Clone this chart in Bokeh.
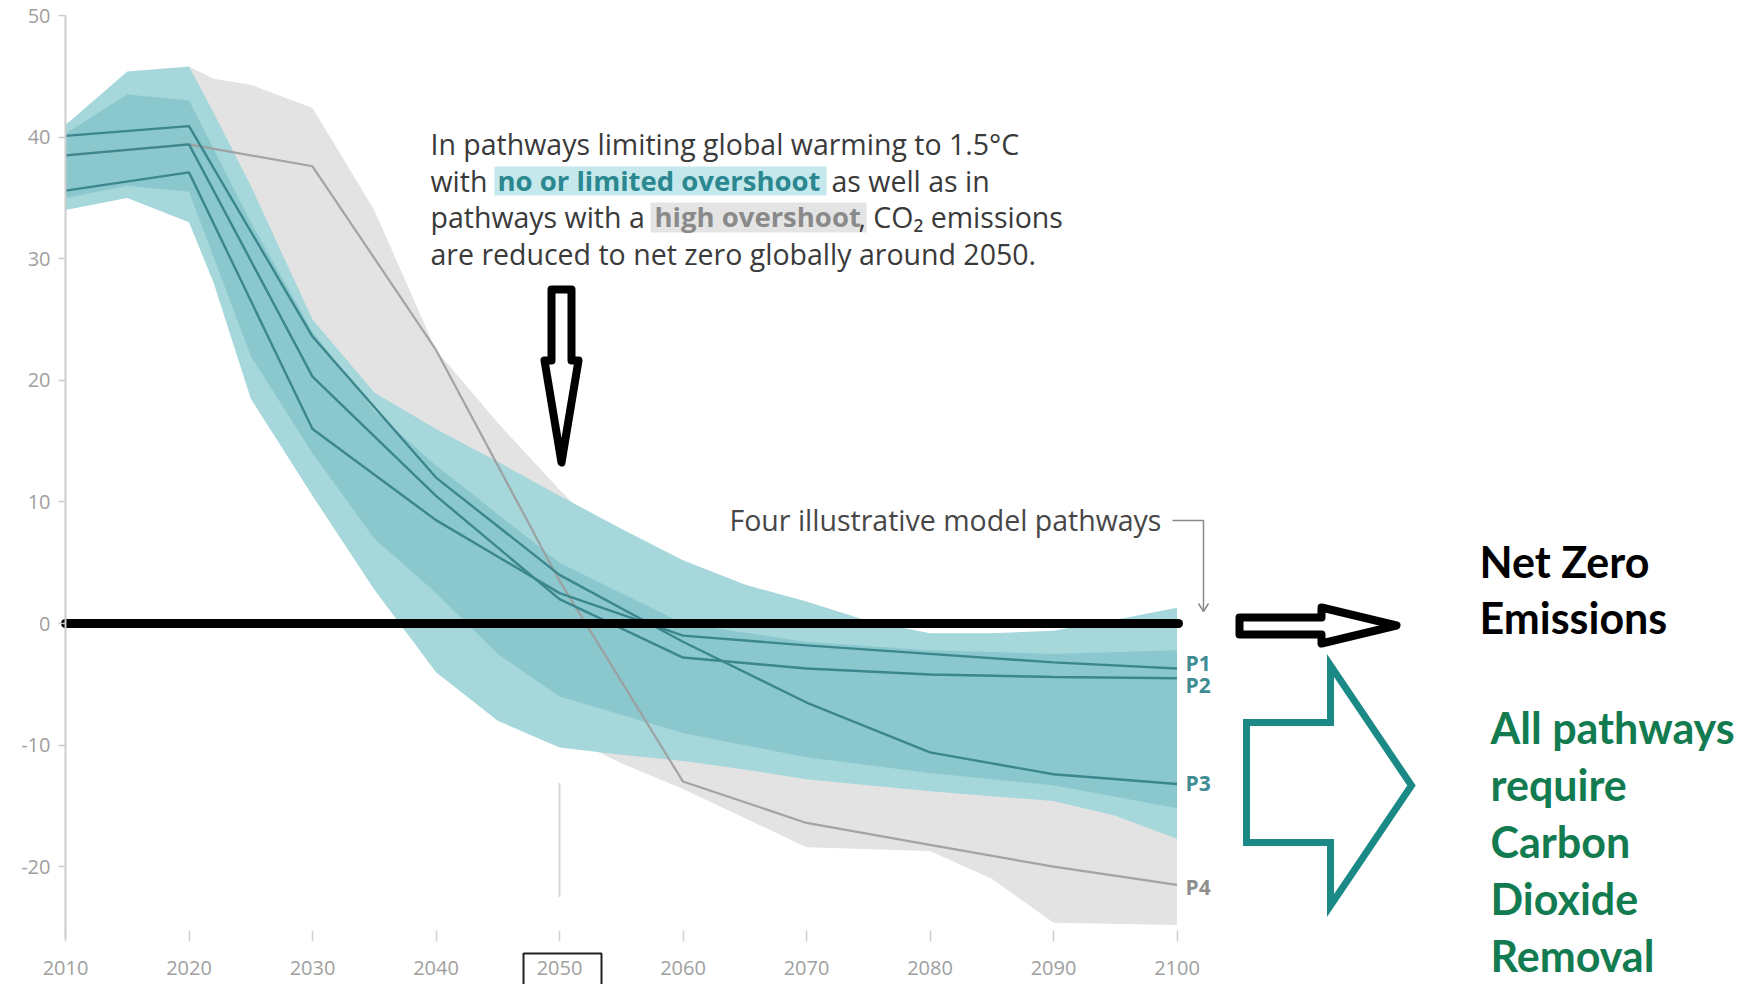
from bokeh.plotting import figure
from bokeh.models import Range1d, FixedTicker, PrintfTickFormatter
from bokeh.embed import file_html
from bokeh.resources import INLINE
from bokeh.core.properties import value

# ---------------- data (Gt CO2 / yr) ----------------
teal_years = [2010, 2015, 2020, 2022, 2025, 2030, 2035, 2040, 2045, 2050,
              2055, 2060, 2065, 2070, 2075, 2080, 2085, 2090, 2095, 2100]
teal_upper = [41.0, 45.4, 45.8, 42.0, 36.0, 25.0, 19.0, 16.0, 13.3, 10.5,
              7.8, 5.2, 3.2, 1.8, 0.2, -0.8, -0.8, -0.6, 0.3, 1.3]
teal_lower = [34.0, 35.0, 33.0, 28.0, 18.5, 10.5, 2.8, -4.0, -8.0, -10.2,
              -10.8, -11.3, -12.0, -12.8, -13.3, -13.8, -14.2, -14.6, -15.8, -17.7]

core_years = [2010, 2015, 2020, 2025, 2030, 2035, 2040, 2045, 2050,
              2060, 2070, 2080, 2090, 2100]
core_upper = [40.3, 43.5, 43.0, 33.0, 24.0, 17.5, 13.0, 9.0, 5.0,
              0.0, -1.5, -2.2, -2.5, -2.2]
core_lower = [35.0, 36.0, 35.5, 22.0, 14.0, 7.0, 2.5, -2.5, -6.0,
              -9.0, -11.0, -12.3, -13.3, -15.2]

high_years = [2020, 2022, 2025, 2030, 2035, 2040, 2045, 2050, 2055,
              2060, 2070, 2080, 2085, 2090, 2100]
high_upper = [45.8, 44.8, 44.3, 42.4, 34.0, 22.5, 16.5, 11.0, 6.0,
              2.0, -2.0, -4.0, -4.0, -4.0, -4.0]
high_lower = [40.0, 36.0, 30.0, 20.0, 10.0, 2.0, -5.0, -9.0, -11.5,
              -13.6, -18.4, -18.7, -21.0, -24.6, -24.8]

path_years = [2010, 2020, 2030, 2040, 2050, 2060, 2070, 2080, 2090, 2100]
P1 = [35.6, 37.1, 16.0, 8.5, 2.5, -1.0, -1.8, -2.5, -3.2, -3.7]
P2 = [38.5, 39.4, 20.3, 10.5, 2.0, -2.8, -3.7, -4.2, -4.4, -4.5]
P3 = [40.1, 40.9, 23.6, 12.0, 4.0, -1.5, -6.5, -10.6, -12.4, -13.2]
P4 = [38.5, 39.4, 37.6, 22.5, 3.5, -13.0, -16.4, -18.2, -20.0, -21.5]
path_names = ["P1", "P2", "P3", "P4"]

net_zero_level = 0.0
marker_year = 2050
marker_span = [-13.1, -22.5]

x_ticks = [2010, 2020, 2030, 2040, 2050, 2060, 2070, 2080, 2090, 2100]
y_ticks = [-20, -10, 0, 10, 20, 30, 40, 50]

# ---------------- layout ----------------
W, H = 1760, 984
PX_YR = 12.35      # pixels per year
PX_UNIT = 12.16    # pixels per Gt


def X(px):  # picture pixel -> year
    return 2010 + (px - 65) / PX_YR


def Y(py):  # picture pixel -> value
    return (623 - py) / PX_UNIT


p = figure(width=W, height=H, x_range=Range1d(X(0), X(W)),
           y_range=Range1d(Y(H), Y(0)),
           output_backend="svg", toolbar_location=None,
           min_border=0, min_border_left=0, min_border_right=0,
           min_border_top=0, min_border_bottom=0)
p.outline_line_color = None
p.grid.visible = False
p.background_fill_color = "white"
p.border_fill_color = "white"

AX_COL = "#cccccc"
LAB_COL = "#a0a0a0"

p.yaxis.fixed_location = 2010
p.yaxis.bounds = (Y(938), 50)
p.yaxis.ticker = FixedTicker(ticks=y_ticks)
p.yaxis.formatter = PrintfTickFormatter(format="%d")
p.yaxis.axis_line_color = AX_COL
p.yaxis.axis_line_width = 2
p.yaxis.major_tick_line_color = AX_COL
p.yaxis.major_tick_line_width = 1.5
p.yaxis.major_tick_out = 7
p.yaxis.major_tick_in = 0
p.yaxis.minor_tick_line_color = None
p.yaxis.major_label_standoff = 8
p.yaxis.major_label_text_font = "Open Sans"
p.yaxis.major_label_text_font_size = "20px"
p.yaxis.major_label_text_color = LAB_COL

p.xaxis.fixed_location = Y(938)
p.xaxis.bounds = (2010, 2100)
p.xaxis.ticker = FixedTicker(ticks=x_ticks)
p.xaxis.formatter = PrintfTickFormatter(format="%d")
p.xaxis.axis_line_color = None
p.xaxis.major_tick_line_color = "#d0d0d0"
p.xaxis.major_tick_line_width = 1.5
p.xaxis.major_tick_in = 8
p.xaxis.major_tick_out = 3
p.xaxis.minor_tick_line_color = None
p.xaxis.major_label_standoff = 19
p.xaxis.major_label_text_font = "Open Sans"
p.xaxis.major_label_text_font_size = "20px"
p.xaxis.major_label_text_color = LAB_COL

# ---------------- bands ----------------
p.varea(x=high_years, y1=high_lower, y2=high_upper, fill_color="#e3e3e3")
p.varea(x=teal_years, y1=teal_lower, y2=teal_upper, fill_color="#a5d7db")
p.varea(x=core_years, y1=core_lower, y2=core_upper, fill_color="#7fc2c8",
        fill_alpha=0.7)

# marker at 2050
p.segment(x0=[marker_year], y0=[marker_span[0]], x1=[marker_year],
          y1=[marker_span[1]], line_color="#d8d8d8", line_width=2)

# pathways
p.line(path_years, P4, line_color="#9c9c9c", line_width=2.2, line_alpha=0.9)
for ys in (P1, P2, P3):
    p.line(path_years, ys, line_color="#3b878d", line_width=2.4)

# net zero line
p.segment(x0=[2010], y0=[net_zero_level], x1=[X(1178)], y1=[net_zero_level],
          line_color="black", line_width=9, line_cap="round")

# pathway labels
lab_y = [Y(662), Y(684), Y(782), Y(886)]
p.text(x=[X(1185)] * 4, y=lab_y, text=path_names,
       text_color=["#3f8d93", "#3f8d93", "#3f8d93", "#8f8f8f"],
       text_font=value("Open Sans"), text_font_style="bold",
       text_font_size="21px", text_baseline="middle", text_align="left")

# ---------------- annotation text ----------------
TXT = "#3a3a3a"
FS = "28.5px"
FSB = "27.5px"
p.quad(left=[X(494), X(650)], right=[X(826), X(866)],
       top=[Y(166), Y(202)], bottom=[Y(195), Y(232)],
       fill_color=["#c4e8eb", "#e4e4e4"], line_color=None)


def txt(x, y, s, color=TXT, bold=False, size=FS):
    p.text(x=[x], y=[y], text=[s], text_color=color,
           text_font=value("Open Sans"),
           text_font_style="bold" if bold else "normal",
           text_font_size=size, text_baseline="middle", text_align="left")


txt(X(430), Y(143), "In pathways limiting global warming to 1.5°C")
txt(X(430), Y(180), "with")
txt(X(497), Y(180), "no or limited overshoot", color="#2b8790", bold=True,
    size=FSB)
txt(X(831), Y(180), "as well as in")
txt(X(430), Y(216), "pathways with a")
txt(X(654), Y(216), "high overshoot", color="#8a8a8a", bold=True, size=FSB)
txt(X(858), Y(216), ", CO₂ emissions")
txt(X(430), Y(253), "are reduced to net zero globally around 2050.")
txt(X(729), Y(519), "Four illustrative model pathways", color="#474747")

# bracket pointer
p.line([X(1172), X(1203), X(1203)], [Y(520), Y(520), Y(610)],
       line_color="#8a8a8a", line_width=1.5)
p.line([X(1198), X(1203), X(1208)], [Y(603), Y(611), Y(603)],
       line_color="#8a8a8a", line_width=1.5)

# down arrow
p.patch([X(551), X(571), X(571), X(578), X(561), X(544), X(551)],
        [Y(289), Y(289), Y(360), Y(360), Y(462), Y(360), Y(360)],
        fill_color="white", line_color="black", line_width=8,
        line_join="round")

# black right arrow
p.patch([X(1239), X(1321), X(1321), X(1396), X(1321), X(1321), X(1239)],
        [Y(617), Y(617), Y(607), Y(625), Y(643), Y(634), Y(634)],
        fill_color="white", line_color="black", line_width=8,
        line_join="round")

# teal right arrow
p.patch([X(1246), X(1330), X(1330), X(1411), X(1330), X(1330), X(1246)],
        [Y(722), Y(722), Y(665), Y(785), Y(905), Y(842), Y(842)],
        fill_color="white", line_color="#1b8a86", line_width=7,
        line_join="miter")

# box around 2050 tick label
p.quad(left=[X(523)], right=[X(601)], top=[Y(953)], bottom=[Y(990)],
       fill_color=None, line_color="#222222", line_width=2)

# right side text
for s, py in (("Net Zero", 561), ("Emissions", 617)):
    p.text(x=[X(1479)], y=[Y(py)], text=[s], text_color="black",
           text_font=value("Lato"), text_font_style="bold",
           text_font_size="43px", text_baseline="middle", text_align="left")
for s, py in (("All pathways", 727), ("require", 784), ("Carbon", 841),
              ("Dioxide", 898), ("Removal", 955)):
    p.text(x=[X(1490)], y=[Y(py)], text=[s], text_color="#127b50",
           text_font=value("Lato"), text_font_style="bold",
           text_font_size="43px", text_baseline="middle", text_align="left")

open("out.html", "w").write(file_html(p, INLINE))
